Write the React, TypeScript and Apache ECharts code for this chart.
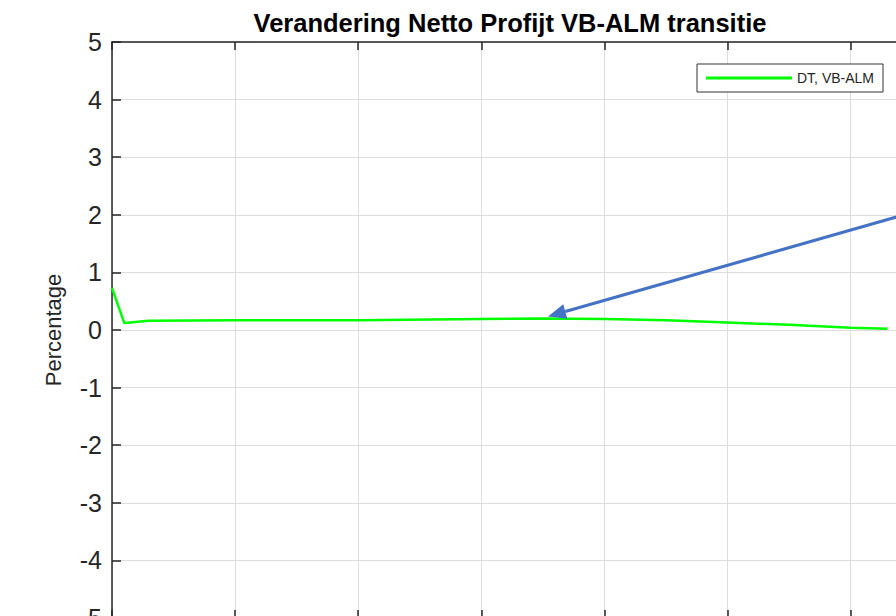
import React, { useEffect, useRef } from "react";
import * as echarts from "echarts";

const titleText = "Verandering Netto Profijt VB-ALM transitie";
const seriesName = "DT, VB-ALM";
const yAxisName = "Percentage";
const xValues = [0, 1, 3, 10, 20, 30, 35, 40, 45, 50, 55, 60, 63];
const yValues = [0.73, 0.12, 0.16, 0.17, 0.17, 0.19, 0.2, 0.19, 0.17, 0.13, 0.09, 0.04, 0.02];
const yMin = -5;
const yMax = 5;
const yStep = 1;
const xMin = 0;
const xMax = 64.5;
const xStep = 10;

const FONT = "'Liberation Sans', Arial, Helvetica, sans-serif";
const AXIS_COLOR = "#262626";
const GRID_COLOR = "#dedede";

export default function App() {
  const ref = useRef<HTMLDivElement>(null);
  useEffect(() => {
    if (!ref.current) return;
    const chart = echarts.init(ref.current, undefined, { renderer: "svg" });
    const data = xValues.map((x, i) => [x, yValues[i]]);

    // arrow annotation
    const tip = [548, 316.5];
    const start = [920, 210.3];
    const dx = tip[0] - start[0];
    const dy = tip[1] - start[1];
    const len = Math.sqrt(dx * dx + dy * dy);
    const ux = dx / len;
    const uy = dy / len;
    const headLen = 18;
    const headHalf = 7.5;
    const bx = tip[0] - headLen * ux;
    const by = tip[1] - headLen * uy;
    const nx = -uy * headHalf;
    const ny = ux * headHalf;

    chart.setOption({
      animation: false,
      backgroundColor: "#fff",
      title: {
        text: titleText,
        left: 505,
        top: 5,
        textAlign: "center",
        textStyle: { fontFamily: FONT, fontSize: 25.5, fontWeight: "bold", color: "#000" },
      },
      legend: {
        left: 697,
        top: 64,
        orient: "horizontal",
        icon: "rect",
        itemWidth: 86,
        itemHeight: 3,
        itemGap: 5,
        padding: [7, 9, 7, 9],
        borderColor: "#333",
        borderWidth: 1,
        backgroundColor: "#fff",
        textStyle: { fontFamily: FONT, fontSize: 14, color: AXIS_COLOR, padding: [0, 0, 0, 0] },
        data: [seriesName],
      },
      grid: { left: 112, top: 42, right: 24, bottom: 42, show: false },
      xAxis: [
        {
          type: "value",
          min: xMin,
          max: xMax,
          interval: xStep,
          position: "bottom",
          axisLine: { show: true, onZero: false, lineStyle: { color: AXIS_COLOR, width: 1.5 } },
          axisTick: { show: true, inside: true, length: 8, lineStyle: { color: AXIS_COLOR, width: 1.5 } },
          axisLabel: { show: false },
          splitLine: { show: true, lineStyle: { color: GRID_COLOR, width: 1 } },
        },
        {
          type: "value",
          min: xMin,
          max: xMax,
          interval: xStep,
          position: "top",
          axisLine: { show: true, onZero: false, lineStyle: { color: AXIS_COLOR, width: 1.5 } },
          axisTick: { show: true, inside: true, length: 8, lineStyle: { color: AXIS_COLOR, width: 1.5 } },
          axisLabel: { show: false },
          splitLine: { show: false },
        },
      ],
      yAxis: {
        type: "value",
        min: yMin,
        max: yMax,
        interval: yStep,
        name: yAxisName,
        nameLocation: "middle",
        nameRotate: 90,
        nameGap: 48,
        nameTextStyle: { fontFamily: FONT, fontSize: 22, color: AXIS_COLOR },
        axisLine: { show: true, onZero: false, lineStyle: { color: AXIS_COLOR, width: 1.5 } },
        axisTick: { show: true, inside: true, length: 9, lineStyle: { color: AXIS_COLOR, width: 1.5 } },
        axisLabel: { fontFamily: FONT, fontSize: 25, color: AXIS_COLOR, margin: 10 },
        splitLine: { show: true, lineStyle: { color: GRID_COLOR, width: 1 } },
      },
      series: [
        {
          name: seriesName,
          type: "line",
          data,
          showSymbol: false,
          symbol: "none",
          lineStyle: { color: "#00ff00", width: 2.5 },
          itemStyle: { color: "#00ff00" },
          clip: false,
        },
      ],
      graphic: [
        {
          type: "line",
          z: 100,
          shape: { x1: start[0], y1: start[1], x2: bx, y2: by },
          style: { stroke: "#4472C4", lineWidth: 3 },
        },
        {
          type: "polygon",
          z: 100,
          shape: {
            points: [
              [tip[0], tip[1]],
              [bx + nx, by + ny],
              [bx - nx, by - ny],
            ],
          },
          style: { fill: "#4472C4" },
        },
      ],
    });
    return () => chart.dispose();
  }, []);
  return (
    <div style={{ position: "fixed", left: 0, top: 0, width: 896, height: 616, overflow: "hidden", background: "#fff" }}>
      <div ref={ref} style={{ width: 930, height: 660 }} />
    </div>
  );
}
